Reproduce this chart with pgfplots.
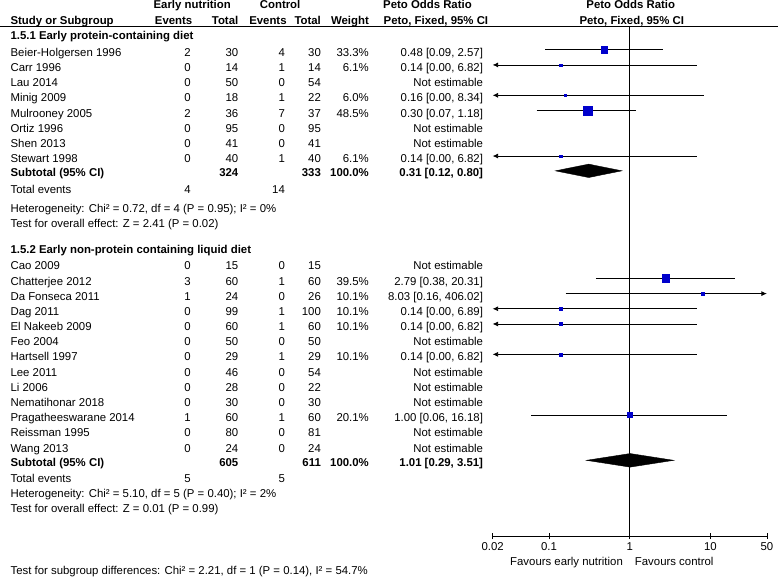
\documentclass[border=0pt]{standalone}
\usepackage{fontspec}
\setmainfont{Liberation Sans}
\usepackage{pgfplots}
\pgfplotsset{compat=1.18}
\usepackage{pgfplotstable}
\usetikzlibrary{arrows.meta}
\definecolor{sqblue}{RGB}{0,0,204}
\newcommand\fs{\fontsize{11.4}{13.7}\selectfont}

% study estimates: x = odds ratio, y = row position (px from top), ms = half side of square
\pgfplotstableread{
est y ms
0.48 49.8 3.3
0.14 65.0 1.2
0.16 95.4 1.2
0.30 110.6 4.3
0.14 156.2 1.2
2.79 278.7 3.8
8.03 293.9 1.5
0.14 309.1 1.5
0.14 324.3 1.5
0.14 354.7 1.5
1.00 415.5 2.5
}\squares

\newcommand\srow[8]{%
  \node[anchor=base west] at (10,#1+4.1) {#2};
  \node[anchor=base east] at (190.7,#1+4.1) {#3};
  \node[anchor=base east] at (238.3,#1+4.1) {#4};
  \node[anchor=base east] at (285,#1+4.1) {#5};
  \node[anchor=base east] at (321,#1+4.1) {#6};
  \node[anchor=base east] at (369,#1+4.1) {#7};
  \node[anchor=base east] at (483.3,#1+4.1) {#8};}

\begin{document}
\begin{tikzpicture}[every node/.style={font=\fs, inner sep=0pt}]
\begin{scope}[x=1pt, y=-1pt, shift={(-492.7pt,536.7pt)}]
  \useasboundingbox (0,0) rectangle (778,577);
\end{scope}

\begin{axis}[
  at={(0,0)}, anchor=south west,
  scale only axis, width=274.6pt, height=509.7pt,
  xmode=log, xmin=0.02, xmax=50,
  ymin=27, ymax=536.7, y dir=reverse,
  axis x line*=bottom, axis y line=none,
  xtick={0.02,0.1,1,10,50}, xticklabels={0.02,0.1,1,10,50},
  minor xtick={}, tick align=center, major tick length=6pt,
  axis line style={line width=0.8pt, -},
  major tick style={line width=0.8pt, black},
  tick label style={font=\fs},
  xticklabel style={yshift=-3pt},
  /pgf/number format/assume math mode=true,
  clip=false,
  ci/.style={black, line width=0.8pt},
  la/.style={ci, arrows={Latex[length=5.5pt,width=5pt]-}},
  ra/.style={ci, arrows={-Latex[length=5.5pt,width=5pt]}},
]
% line of no effect
\addplot[black, line width=0.8pt] coordinates {(1,27) (1,536.7)};

% 1.5.1
\addplot[ci] coordinates {(0.09,49.8) (2.57,49.8)};
\addplot[la] coordinates {(0.02,65.0) (6.82,65.0)};
\addplot[la] coordinates {(0.02,95.4) (8.34,95.4)};
\addplot[ci] coordinates {(0.07,110.6) (1.18,110.6)};
\addplot[la] coordinates {(0.02,156.2) (6.82,156.2)};
\addplot[fill=black, draw=black] coordinates {(0.12,171) (0.31,164.3) (0.80,171) (0.31,177.7)} --cycle;

% 1.5.2
\addplot[ci] coordinates {(0.38,278.7) (20.31,278.7)};
\addplot[ra] coordinates {(0.16,293.9) (50,293.9)};
\addplot[la] coordinates {(0.02,309.1) (6.89,309.1)};
\addplot[la] coordinates {(0.02,324.3) (6.82,324.3)};
\addplot[la] coordinates {(0.02,354.7) (6.82,354.7)};
\addplot[ci] coordinates {(0.06,415.5) (16.18,415.5)};
\addplot[fill=black, draw=black] coordinates {(0.29,460.8) (1.01,454) (3.51,460.8) (1.01,467.6)} --cycle;

\addplot[only marks, mark=square*, scatter,
  scatter/use mapped color={draw=sqblue, fill=sqblue},
  visualization depends on={\thisrow{ms} \as \ms},
  scatter/@pre marker code/.append style={/tikz/mark size=\ms}]
  table[x=est, y=y] {\squares};
\end{axis}

\begin{scope}[x=1pt, y=-1pt, shift={(-492.7pt,536.7pt)}]
  % header
  \node[anchor=base, font=\fs\bfseries] at (192,8.4) {Early nutrition};
  \node[anchor=base, font=\fs\bfseries] at (280,8.4) {Control};
  \node[anchor=base, font=\fs\bfseries] at (427.5,8.4) {Peto Odds Ratio};
  \node[anchor=base, font=\fs\bfseries] at (631,8.4) {Peto Odds Ratio};
  \node[anchor=base west, font=\fs\bfseries] at (10,24.1) {Study or Subgroup};
  \node[anchor=base east, font=\fs\bfseries] at (192.3,24.1) {Events};
  \node[anchor=base east, font=\fs\bfseries] at (238.3,24.1) {Total};
  \node[anchor=base east, font=\fs\bfseries] at (286.7,24.1) {Events};
  \node[anchor=base east, font=\fs\bfseries] at (321,24.1) {Total};
  \node[anchor=base east, font=\fs\bfseries] at (369,24.1) {Weight};
  \node[anchor=base, font=\fs\bfseries] at (436,24.1) {Peto, Fixed, 95\% CI};
  \node[anchor=base, font=\fs\bfseries] at (632,24.1) {Peto, Fixed, 95\% CI};
  \draw[line width=0.8pt] (0,26.5) -- (778,26.5);

  % 1.5.1
  \node[anchor=base west, font=\fs\bfseries] at (10,39.1) {1.5.1 Early protein-containing diet};
  \srow{52.3}{Beier-Holgersen 1996}{2}{30}{4}{30}{33.3\%}{0.48 [0.09, 2.57]}
  \srow{67.5}{Carr 1996}{0}{14}{1}{14}{6.1\%}{0.14 [0.00, 6.82]}
  \srow{82.7}{Lau 2014}{0}{50}{0}{54}{}{Not estimable}
  \srow{97.9}{Minig 2009}{0}{18}{1}{22}{6.0\%}{0.16 [0.00, 8.34]}
  \srow{113.1}{Mulrooney 2005}{2}{36}{7}{37}{48.5\%}{0.30 [0.07, 1.18]}
  \srow{128.3}{Ortiz 1996}{0}{95}{0}{95}{}{Not estimable}
  \srow{143.5}{Shen 2013}{0}{41}{0}{41}{}{Not estimable}
  \srow{158.7}{Stewart 1998}{0}{40}{1}{40}{6.1\%}{0.14 [0.00, 6.82]}
  \begin{scope}[every node/.style={font=\fs\bfseries, inner sep=0pt}]
    \srow{172.3}{Subtotal (95\% CI)}{}{324}{}{333}{100.0\%}{0.31 [0.12, 0.80]}
  \end{scope}
  \srow{189.3}{Total events}{4}{}{14}{}{}{}
  \node[anchor=base west] at (10,213.1) {Heterogeneity: Chi² = 0.72, df = 4 (P = 0.95); I² = 0\%};
  \node[anchor=base west] at (10,227.4) {Test for overall effect: Z = 2.41 (P = 0.02)};

  % 1.5.2
  \node[anchor=base west, font=\fs\bfseries] at (10,253.4) {1.5.2 Early non-protein containing liquid diet};
  \srow{266.0}{Cao 2009}{0}{15}{0}{15}{}{Not estimable}
  \srow{281.2}{Chatterjee 2012}{3}{60}{1}{60}{39.5\%}{2.79 [0.38, 20.31]}
  \srow{296.4}{Da Fonseca 2011}{1}{24}{0}{26}{10.1\%}{8.03 [0.16, 406.02]}
  \srow{311.6}{Dag 2011}{0}{99}{1}{100}{10.1\%}{0.14 [0.00, 6.89]}
  \srow{326.8}{El Nakeeb 2009}{0}{60}{1}{60}{10.1\%}{0.14 [0.00, 6.82]}
  \srow{342.0}{Feo 2004}{0}{50}{0}{50}{}{Not estimable}
  \srow{357.2}{Hartsell 1997}{0}{29}{1}{29}{10.1\%}{0.14 [0.00, 6.82]}
  \srow{372.4}{Lee 2011}{0}{46}{0}{54}{}{Not estimable}
  \srow{387.6}{Li 2006}{0}{28}{0}{22}{}{Not estimable}
  \srow{402.8}{Nematihonar 2018}{0}{30}{0}{30}{}{Not estimable}
  \srow{418.0}{Pragatheeswarane 2014}{1}{60}{1}{60}{20.1\%}{1.00 [0.06, 16.18]}
  \srow{433.2}{Reissman 1995}{0}{80}{0}{81}{}{Not estimable}
  \srow{448.4}{Wang 2013}{0}{24}{0}{24}{}{Not estimable}
  \begin{scope}[every node/.style={font=\fs\bfseries, inner sep=0pt}]
    \srow{463.0}{Subtotal (95\% CI)}{}{605}{}{611}{100.0\%}{1.01 [0.29, 3.51]}
  \end{scope}
  \srow{479.3}{Total events}{5}{}{5}{}{}{}
  \node[anchor=base west] at (10,498.4) {Heterogeneity: Chi² = 5.10, df = 5 (P = 0.40); I² = 2\%};
  \node[anchor=base west] at (10,513.4) {Test for overall effect: Z = 0.01 (P = 0.99)};

  \node[anchor=base west] at (10,575.1) {Test for subgroup differences: Chi² = 2.21, df = 1 (P = 0.14), I² = 54.7\%};

  % axis captions
  \node[anchor=base east] at (623.3,566.1) {Favours early nutrition};
  \node[anchor=base west] at (635,566.1) {Favours control};
\end{scope}
\end{tikzpicture}
\end{document}
